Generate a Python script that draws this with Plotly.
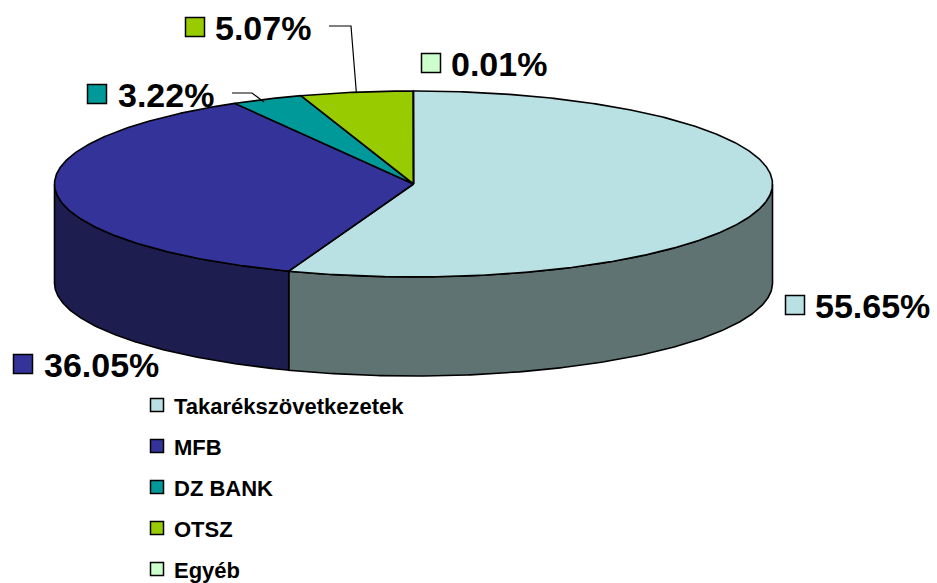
import numpy as np
import plotly.graph_objects as go

# ---- data ----
categories = ["Takarékszövetkezetek", "MFB", "DZ BANK", "OTSZ", "Egyéb"]
shares = [55.65, 36.05, 3.22, 5.07, 0.01]
label_texts = ["55.65%", "36.05%", "3.22%", "5.07%", "0.01%"]

# ---- style ----
top_colors = ["#B9E0E3", "#333399", "#009999", "#99CC00", "#CCFFCC"]
side_colors = ["#5F7373", "#1D1D4F", "#005050", "#506B00", "#6B866B"]
CX, CY, RX, RY, DEPTH = 413.5, 184, 359, 93, 99
LINE = dict(color="black", width=1.6)
FONT = "Liberation Sans, Arial"
# data-label layout: (square x, text-left x, y)
label_pos = [(795, 813, 305), (23, 42, 364), (97, 116, 94), (195, 213, 27), (431, 449, 63)]
# legend layout
LEG_SQ_X, LEG_TX_X, LEG_Y0, LEG_DY = 157, 172, 405, 41


def pt(theta_deg, dy=0.0):
    t = np.radians(theta_deg)
    return CX + RX * np.sin(t), CY - RY * np.cos(t) + dy


def arc(a, b, dy=0.0):
    n = max(int(abs(b - a) * 2) + 2, 3)
    th = np.linspace(a, b, n)
    xs, ys = pt(th, dy)
    return list(xs), list(ys)


total = sum(shares)
bounds = []
acc = 0.0
for v in shares:
    a = acc / total * 360
    acc += v
    b = acc / total * 360
    bounds.append((a, b))

fig = go.Figure()

# side walls (front half only visible: 90..270 deg)
for i, (a, b) in enumerate(bounds):
    s, e = max(a, 90), min(b, 270)
    if e <= s:
        continue
    tx, ty = arc(s, e)
    bx, by = arc(e, s, DEPTH)
    fig.add_trace(go.Scatter(x=tx + bx + [tx[0]], y=ty + by + [ty[0]], mode="lines",
                             fill="toself", fillcolor=side_colors[i], line=LINE,
                             hoverinfo="skip", showlegend=False))

# top faces
for i, (a, b) in enumerate(bounds):
    ax_, ay_ = arc(a, b)
    fig.add_trace(go.Scatter(x=[CX] + ax_ + [CX], y=[CY] + ay_ + [CY], mode="lines",
                             fill="toself", fillcolor=top_colors[i], line=LINE,
                             name=categories[i], hoverinfo="name", showlegend=False))

# leader lines
otsz_mid = pt((bounds[3][0] + bounds[3][1]) / 2)
dz_mid = pt((bounds[2][0] + bounds[2][1]) / 2)
fig.add_trace(go.Scatter(x=[329, 351, otsz_mid[0]], y=[26, 26, otsz_mid[1]], mode="lines",
                         line=dict(color="black", width=1.2), hoverinfo="skip", showlegend=False))
fig.add_trace(go.Scatter(x=[232, 252, dz_mid[0] - 3], y=[93, 93, dz_mid[1] + 3], mode="lines",
                         line=dict(color="black", width=1.2), hoverinfo="skip", showlegend=False))

# data labels with keys
fig.add_trace(go.Scatter(x=[p[0] for p in label_pos], y=[p[2] for p in label_pos], mode="markers",
                         marker=dict(symbol="square", size=19, color=top_colors,
                                     line=dict(color="black", width=1.5)),
                         hoverinfo="skip", showlegend=False))
for i, t in enumerate(label_texts):
    fig.add_annotation(x=label_pos[i][1], y=label_pos[i][2] + 1, text="<b>" + t + "</b>",
                       showarrow=False, xanchor="left", yanchor="middle",
                       font=dict(family=FONT, size=34, color="black"))

# legend (drawn manually so it does not push the plot margins)
leg_y = [LEG_Y0 + LEG_DY * i for i in range(len(categories))]
fig.add_trace(go.Scatter(x=[LEG_SQ_X] * len(categories), y=leg_y, mode="markers",
                         marker=dict(symbol="square", size=13, color=top_colors,
                                     line=dict(color="black", width=1.5)),
                         text=categories, hoverinfo="text", showlegend=False))
for i, c in enumerate(categories):
    fig.add_annotation(x=LEG_TX_X, y=leg_y[i] + 1, text="<b>" + c + "</b>",
                       showarrow=False, xanchor="left", yanchor="middle",
                       font=dict(family=FONT, size=22, color="black"))

fig.update_layout(
    width=937, height=583, margin=dict(l=0, r=0, t=0, b=0, autoexpand=False),
    paper_bgcolor="white", plot_bgcolor="white",
    xaxis=dict(range=[0, 937], visible=False, fixedrange=True),
    yaxis=dict(range=[583, 0], visible=False, fixedrange=True),
    showlegend=False,
)

fig.write_html("out.html")
